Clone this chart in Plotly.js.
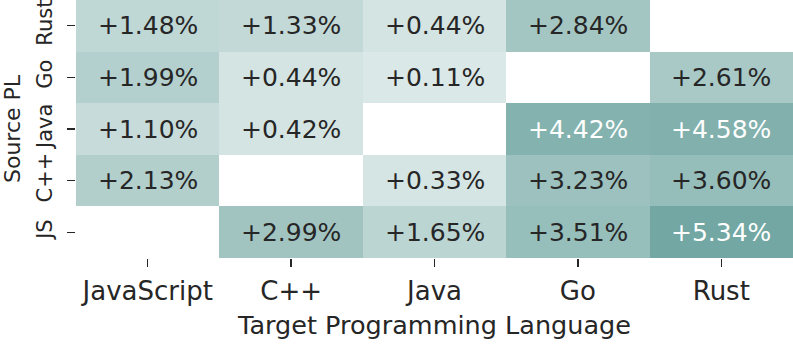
<!DOCTYPE html>
<html>
<head>
<meta charset="utf-8">
<script src="https://cdn.plot.ly/plotly-3.0.1.min.js"></script>
<style>
    html, body { margin: 0; padding: 0; background: #fff; }
    #chart { width: 793px; height: 348px; }
</style>
</head>
<body>
<div id="chart"></div>
<script>
// Target languages (columns) and source languages (rows, top to bottom)
const targetLangs = ['JavaScript', 'C++', 'Java', 'Go', 'Rust'];
const sourceLangs = ['Rust', 'Go', 'Java', 'C++', 'JS'];

// Improvement in percent, null where source == target
const rustRow = [1.48, 1.33, 0.44, 2.84, null];
const goRow = [1.99, 0.44, 0.11, null, 2.61];
const javaRow = [1.10, 0.42, null, 4.42, 4.58];
const cppRow = [2.13, null, 0.33, 3.23, 3.60];
const jsRow = [null, 2.99, 1.65, 3.51, 5.34];

const zValues = [rustRow, goRow, javaRow, cppRow, jsRow];

const textDark = '#262626';

// Build cell labels
const annotations = [];
zValues.forEach((row, i) => {
    row.forEach((v, j) => {
        if (v === null) return;
        annotations.push({
            x: targetLangs[j],
            y: sourceLangs[i],
            xref: 'x',
            yref: 'y',
            text: '+' + v.toFixed(2) + '%',
            showarrow: false,
            font: {
                family: 'DejaVu Sans',
                size: 25,
                color: v > 4 ? '#ffffff' : textDark
            }
        });
    });
});

const trace = {
    type: 'heatmap',
    x: targetLangs,
    y: sourceLangs,
    z: zValues,
    zmin: 0,
    zmax: 5.34,
    colorscale: [[0, '#dce9e8'], [1, '#72a7a3']],
    showscale: false,
    hoverongaps: false
};

const layout = {
    width: 793,
    height: 348,
    margin: { t: 0, r: 0, b: 90, l: 76 },
    paper_bgcolor: '#ffffff',
    plot_bgcolor: '#ffffff',
    font: { family: 'DejaVu Sans', color: textDark },
    xaxis: {
        type: 'category',
        ticks: 'outside',
        ticklen: 8,
        tickwidth: 1.3,
        tickcolor: textDark,
        ticklabelstandoff: 2,
        showgrid: false,
        zeroline: false,
        showline: false,
        tickfont: { family: 'DejaVu Sans', size: 26, color: textDark },
        title: {
            text: 'Target Programming Language',
            font: { family: 'DejaVu Sans', size: 25.5, color: textDark },
            standoff: 10
        }
    },
    yaxis: {
        type: 'category',
        autorange: 'reversed',
        ticks: 'outside',
        ticklen: 8,
        tickwidth: 1.3,
        tickcolor: textDark,
        ticklabelstandoff: 7,
        tickangle: -90,
        showgrid: false,
        zeroline: false,
        showline: false,
        tickfont: { family: 'DejaVu Sans', size: 21, color: textDark },
        title: {
            text: 'Source PL',
            font: { family: 'DejaVu Sans', size: 22, color: textDark },
            standoff: 8
        }
    },
    annotations: annotations,
    showlegend: false
};

Plotly.newPlot('chart', [trace], layout, { displayModeBar: false, staticPlot: true });
</script>
</body>
</html>
